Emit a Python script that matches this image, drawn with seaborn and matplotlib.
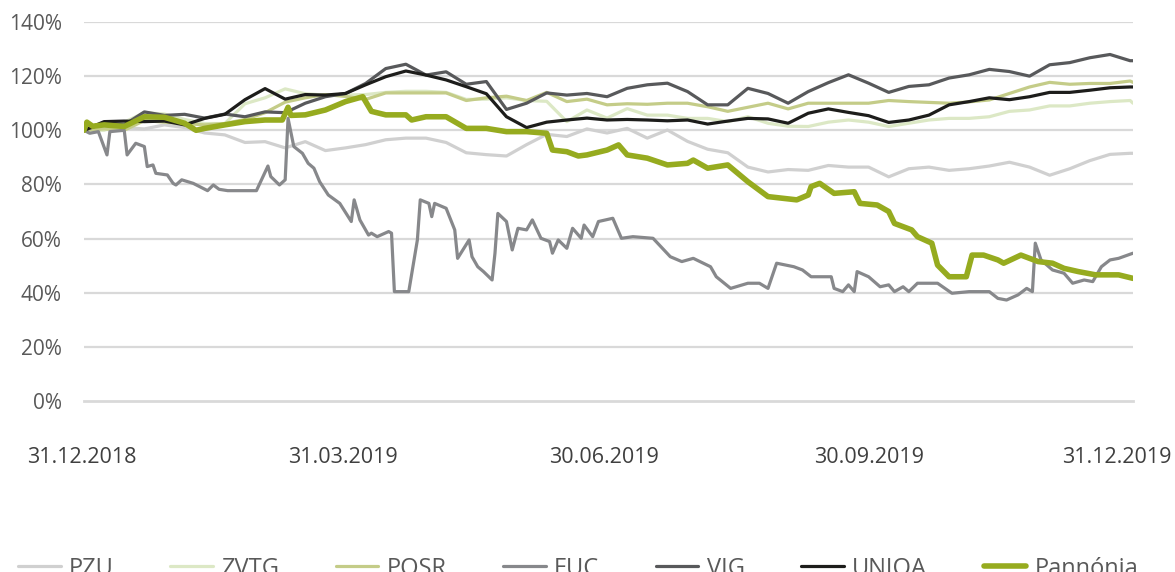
import numpy as np
import pandas as pd
import matplotlib
matplotlib.use("Agg")
import matplotlib.pyplot as plt
import matplotlib.dates as mdates
import matplotlib.transforms as mtransforms
import seaborn as sns

# ---------------- data ----------------
start_date = "2018-12-31"
tick_labels = ["31.12.2018", "31.03.2019", "30.06.2019", "30.09.2019", "31.12.2019"]
tick_dates = ["2018-12-31", "2019-03-31", "2019-06-30", "2019-09-30", "2019-12-31"]
y_ticks = [0, 20, 40, 60, 80, 100, 120, 140]

# weekly series (53 weekly points + 31.12.2019)
pzu = [100, 101.3, 101, 100.5, 102, 101, 99, 98.3, 95.5, 95.8, 93.5, 95.8, 92.5, 93.5,
       94.7, 96.5, 97.1, 97.1, 95.5, 91.7, 91, 90.5, 94.7, 98.5, 97.7, 100.5, 99, 100.7,
       97.1, 100.1, 95.9, 93, 91.7, 86.4, 84.6, 85.5, 85.2, 87, 86.4, 86.4, 82.8, 85.8,
       86.4, 85.2, 85.8, 86.8, 88.2, 86.4, 83.4, 85.8, 88.8, 91.1, 91.5, 91.5]
zvtg = [100, 100, 103, 106.5, 106, 104, 102.5, 102.5, 109.8, 112, 115.3, 113.5, 113, 113,
        113.2, 114, 114.4, 114.4, 114, 111.4, 111.5, 112, 111, 110.7, 103.2, 107.5, 104.5,
        108, 105.6, 105.6, 104.4, 104.4, 103.2, 105, 102.6, 101.5, 101.4, 103, 103.8, 103,
        101.4, 102.6, 103.8, 104.4, 104.4, 105, 107, 107.5, 109, 109, 110, 110.6, 111, 110]
posr = [100, 100.5, 100, 103.6, 103, 102.5, 102, 102.5, 104, 106.5, 110.4, 112, 113.2,
        112.5, 111.4, 113.8, 113.8, 113.8, 113.8, 111, 112, 112.6, 111, 114, 110.6, 111.5,
        109.4, 109.8, 109.6, 110, 110, 108.7, 107, 108.5, 110, 107.9, 110, 110, 110, 110,
        111, 110.6, 110.3, 110, 110.5, 111.2, 113.6, 116, 117.7, 117, 117.3, 117.3, 118.2,
        117.7]
vig = [100, 102.6, 102, 106.8, 105.5, 105.9, 104.5, 106, 105, 106.8, 106.5, 110, 112.4,
       113.6, 117.3, 122.8, 124.4, 120.4, 121.6, 117, 118, 107.7, 110, 113.8, 113, 113.6,
       112.4, 115.5, 116.8, 117.4, 114.3, 109.4, 109.4, 115.5, 113.6, 110, 114.3, 117.6,
       120.5, 117.4, 114, 116.2, 116.8, 119.3, 120.5, 122.5, 121.7, 120, 124.2, 125, 126.8,
       128, 125.7, 125.7]
uniqa = [100, 103.2, 103.4, 103.2, 103.4, 102, 104.4, 105.9, 111.3, 115.4, 111.5, 113.2,
         113, 113.6, 116.8, 119.8, 121.9, 120.4, 118.6, 116.1, 113.5, 105, 101, 103, 103.8,
         104.5, 103.8, 104, 103.8, 103.5, 103.8, 102.3, 103.4, 104.4, 104.2, 102.6, 106.3,
         107.9, 106.6, 105.4, 102.9, 103.8, 105.6, 109.4, 110.6, 112, 111.3, 112.4, 114,
         114, 114.8, 115.7, 116, 116]

# irregularly sampled series (day offset from 31.12.2018, value in %)
euc_days = [0, 2, 5, 8, 9, 14, 15, 18, 21, 22, 24, 25, 29, 31, 32, 34, 38, 43, 45, 47,
            50, 60, 64, 65, 68, 70, 71, 73, 76, 78, 80, 82, 85, 89, 93, 94, 96, 99, 100,
            102, 106, 107, 108, 113, 116, 117, 120, 121, 122, 126, 129, 130, 134, 135, 137,
            139, 142, 143, 144, 147, 149, 151, 154, 156, 159, 162, 163, 165, 168, 170, 173,
            174, 177, 179, 184, 187, 191, 198, 204, 208, 212, 218, 220, 225, 231, 235, 238,
            241, 247, 250, 253, 260, 261, 264, 266, 268, 269, 273, 277, 280, 282, 285, 287,
            290, 297, 302, 308, 315, 318, 321, 325, 328, 330, 331, 333, 337, 341, 344, 348,
            351, 354, 357, 360, 365]
euc = [100, 98.9, 99.5, 90.9, 99.5, 100, 90.9, 95.2, 94, 86.6, 87.2, 84.1, 83.5, 80.4,
       79.8, 81.7, 80.4, 77.7, 79.8, 78.2, 77.7, 77.7, 86.8, 82.9, 79.8, 81.7, 104.4, 94,
       91.5, 87.8, 86, 81, 76.1, 73, 66.3, 74.3, 66.9, 61.3, 62, 60.7, 62.6, 62, 40.4, 40.4,
       59.5, 74.3, 73, 68.1, 73, 71.2, 63.2, 52.7, 59.5, 53.3, 49.6, 47.8, 44.7, 54.6, 69.3,
       66.3, 55.8, 63.8, 63.2, 66.9, 60.1, 58.9, 54.6, 59.5, 56.4, 63.8, 60.1, 65, 60.7,
       66.3, 67.5, 60.1, 60.7, 60.1, 53.3, 51.5, 52.7, 49.6, 45.9, 41.6, 43.5, 43.5, 41.6,
       50.9, 49.6, 48.4, 45.9, 45.9, 41.6, 40.4, 42.9, 40.4, 47.8, 45.9, 42.2, 42.9, 40.4,
       42.2, 40.4, 43.5, 43.5, 39.8, 40.4, 40.4, 37.9, 37.3, 39.2, 41.6, 40.4, 58.3, 52.1,
       48.4, 47.2, 43.5, 44.7, 44.1, 49.6, 52.1, 52.7, 54.6]
pannonia_days = [0, 1, 3, 7, 14, 21, 28, 35, 39, 42, 49, 56, 63, 69, 71, 72, 77, 84, 91,
                 97, 100, 105, 112, 114, 119, 126, 133, 140, 147, 154, 161, 163, 168, 172,
                 175, 182, 186, 189, 196, 203, 210, 212, 217, 224, 231, 238, 248, 252, 253,
                 256, 261, 268, 270, 276, 280, 282, 288, 290, 295, 297, 301, 307, 309, 313,
                 318, 320, 326, 332, 337, 341, 346, 352, 360, 365]
pannonia = [100, 103, 101.5, 102, 101.4, 105, 104.8, 102.6, 100, 100.7, 102, 103.2, 103.8,
            103.8, 108.5, 105.5, 105.7, 107.5, 110.6, 112.4, 107, 105.7, 105.7, 103.8, 105,
            105, 100.7, 100.7, 99.5, 99.5, 98.9, 92.7, 92.1, 90.5, 90.9, 92.7, 94.6, 90.9,
            89.7, 87.2, 87.8, 89, 86, 87.2, 81, 75.5, 74.3, 76.1, 79.2, 80.4, 76.7, 77.3, 73,
            72.4, 70, 65.6, 63.2, 60.7, 58.3, 50.2, 45.9, 45.9, 53.9, 53.9, 52.1, 50.9, 53.9,
            51.5, 50.9, 49, 47.8, 46.6, 46.6, 45.3]

series_names = ["PZU", "ZVTG", "POSR", "EUC", "VIG", "UNIQA", "Pannónia"]
colors = ["#d0d0d0", "#dce8c5", "#c4cc88", "#87888b", "#58595b", "#1d1d1b", "#96ab1f"]
widths = [2.3, 2.3, 2.3, 2.3, 2.3, 2.3, 4.0]

# ---------------- build frames ----------------
t0 = pd.Timestamp(start_date)
weekly_dates = list(pd.date_range(start_date, periods=53, freq="7D")) + [pd.Timestamp("2019-12-31")]
frames = {
    "PZU": pd.DataFrame({"date": weekly_dates, "value": pzu}),
    "ZVTG": pd.DataFrame({"date": weekly_dates, "value": zvtg}),
    "POSR": pd.DataFrame({"date": weekly_dates, "value": posr}),
    "EUC": pd.DataFrame({"date": [t0 + pd.Timedelta(days=d) for d in euc_days], "value": euc}),
    "VIG": pd.DataFrame({"date": weekly_dates, "value": vig}),
    "UNIQA": pd.DataFrame({"date": weekly_dates, "value": uniqa}),
    "Pannónia": pd.DataFrame({"date": [t0 + pd.Timedelta(days=d) for d in pannonia_days],
                              "value": pannonia}),
}

# ---------------- plot ----------------
sns.set_theme(style="white")
plt.rcParams["font.family"] = ["Open Sans", "DejaVu Sans"]

W, H = 1175, 572
fig = plt.figure(figsize=(W / 100, H / 100), dpi=100)
ax = fig.add_axes([84 / W, (H - 401) / H, (1133 - 84) / W, (401 - 22) / H])

grid_col = "#d9d9d9"
for name, col, lw in zip(series_names, colors, widths):
    df = frames[name]
    sns.lineplot(data=df, x="date", y="value", ax=ax, color=col, linewidth=lw,
                 label=name, legend=False, solid_joinstyle="round", solid_capstyle="round",
                 zorder=3)

ax.set_ylim(0, 140)
ax.set_xlim(pd.Timestamp(tick_dates[0]), pd.Timestamp(tick_dates[-1]))
ax.set_yticks(y_ticks)
ax.set_yticklabels([f"{v}%" for v in y_ticks])
ax.set_xticks([pd.Timestamp(d) for d in tick_dates])
ax.set_xticklabels(tick_labels)
ax.set_xlabel("")
ax.set_ylabel("")

for v in y_ticks[1:]:
    ax.axhline(v, color=grid_col, linewidth=1.6, zorder=1)

for s in ["top", "right", "left"]:
    ax.spines[s].set_visible(False)
ax.spines["bottom"].set_color(grid_col)
ax.spines["bottom"].set_linewidth(2)
ax.spines["bottom"].set_zorder(1)

ax.tick_params(axis="y", length=0, pad=16, labelsize=15, labelcolor="#595959")
ax.tick_params(axis="x", direction="out", length=8, width=1.5, color=grid_col,
               pad=25, labelsize=15.5, labelcolor="#3f3f3f")

# keep the last date label inside the figure, as in the reference
xl = ax.get_xticklabels()
xl[-1].set_transform(xl[-1].get_transform() +
                     mtransforms.ScaledTranslation(-16 / 100, 0, fig.dpi_scale_trans))
xl[0].set_transform(xl[0].get_transform() +
                    mtransforms.ScaledTranslation(-2 / 100, 0, fig.dpi_scale_trans))

handles, labels = ax.get_legend_handles_labels()
leg = fig.legend(handles, labels, loc="center", bbox_to_anchor=(0.492, 0.006), ncol=7,
                 frameon=False, fontsize=17, handlelength=1.8, handletextpad=0.35,
                 columnspacing=2.4, labelcolor="#595959")
for h in leg.get_lines():
    h.set_solid_capstyle("round")

fig.savefig("out.png", dpi=100)
